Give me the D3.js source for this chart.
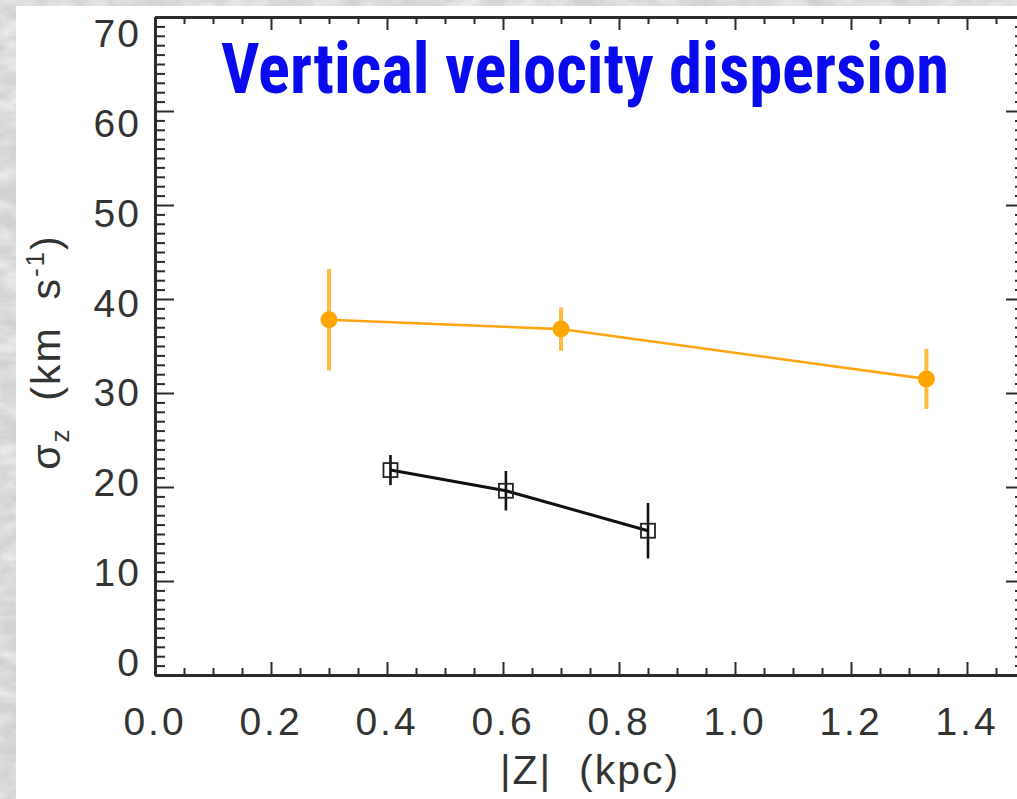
<!DOCTYPE html>
<html>
<head>
<meta charset="utf-8">
<script src="https://cdn.jsdelivr.net/npm/d3@7/dist/d3.min.js"></script>
<style>
  html, body { margin: 0; padding: 0; background: #d4d4d4; }
  svg { display: block; }
</style>
</head>
<body>
<svg id="chart" width="1017" height="799"></svg>
<script>
// Thick-disc sample (orange filled circles)
const thickZ     = [0.30, 0.70, 1.33];
const thickSigma = [37.8, 36.8, 31.5];
const thickErr   = [5.4, 2.3, 3.2];

// Thin-disc sample (open black squares)
const thinZ     = [0.406, 0.605, 0.85];
const thinSigma = [21.8, 19.6, 15.35];
const thinErr   = [1.6, 2.1, 2.95];

// Axis ticks and labels
const xMajor = [0, 0.2, 0.4, 0.6, 0.8, 1.0, 1.2, 1.4];
const xLabels = ["0.0", "0.2", "0.4", "0.6", "0.8", "1.0", "1.2", "1.4"];
const yMajor = [0, 10, 20, 30, 40, 50, 60, 70];
const yLabels = ["0", "10", "20", "30", "40", "50", "60", "70"];

const W = 1017, H = 799;
const svg = d3.select("#chart");

// Mottled grey backdrop behind the white panel
const defs = svg.append("defs");
const f = defs.append("filter").attr("id", "marble")
  .attr("x", 0).attr("y", 0).attr("width", "100%").attr("height", "100%");
f.append("feTurbulence").attr("type", "fractalNoise")
  .attr("baseFrequency", "0.035 0.07").attr("numOctaves", 4).attr("seed", 7);
f.append("feColorMatrix").attr("type", "matrix")
  .attr("values", "0 0 0 0 1  0 0 0 0 1  0 0 0 0 1  1.1 0 0 0 -0.35");
svg.append("rect").attr("width", W).attr("height", H).attr("fill", "#d2d2d2");
svg.append("rect").attr("width", W).attr("height", H).attr("filter", "url(#marble)");

// White panel
svg.append("rect").attr("x", 16).attr("y", 6)
  .attr("width", W - 16).attr("height", H - 6).attr("fill", "#ffffff");

const pLeft = 155, pRight = 1025, pTop = 17, pBottom = 675;
const x = d3.scaleLinear().domain([0, 1.5]).range([pLeft, pRight]);
const y = d3.scaleLinear().domain([0, 70]).range([pBottom, pTop]);
// y labels sit on a slightly tighter spacing than their ticks
const yLab = d3.scaleLinear().domain([0, 70]).range([662, 33]);

const axisColor = "#2b2b2b";
const textColor = "#333333";
const xMinor = d3.range(0, 1.5001, 0.05).filter(v => Math.abs(v * 5 - Math.round(v * 5)) > 1e-6);
const yMinor = d3.range(0, 71, 1).filter(v => v % 10 !== 0);

function styleAxis(g, width) {
  g.select(".domain").attr("stroke", axisColor).attr("stroke-width", width);
  g.selectAll(".tick line").attr("stroke", axisColor).attr("stroke-width", 2);
  g.selectAll(".tick text").remove();
}

// Bottom axis (ticks point up into the plot)
svg.append("g").attr("transform", `translate(0,${pBottom})`)
  .call(d3.axisTop(x).tickValues(xMinor).tickSize(7).tickSizeOuter(0))
  .call(g => styleAxis(g, 3));
svg.append("g").attr("transform", `translate(0,${pBottom})`)
  .call(d3.axisTop(x).tickValues(xMajor).tickSize(13).tickSizeOuter(0))
  .call(g => styleAxis(g, 3));
// Top axis
svg.append("g").attr("transform", `translate(0,${pTop})`)
  .call(d3.axisBottom(x).tickValues(xMinor).tickSize(7).tickSizeOuter(0))
  .call(g => styleAxis(g, 3));
svg.append("g").attr("transform", `translate(0,${pTop})`)
  .call(d3.axisBottom(x).tickValues(xMajor).tickSize(13).tickSizeOuter(0))
  .call(g => styleAxis(g, 3));
// Left axis
svg.append("g").attr("transform", `translate(${pLeft},0)`)
  .call(d3.axisRight(y).tickValues(yMinor).tickSize(10).tickSizeOuter(0))
  .call(g => styleAxis(g, 3));
svg.append("g").attr("transform", `translate(${pLeft},0)`)
  .call(d3.axisRight(y).tickValues(yMajor).tickSize(19).tickSizeOuter(0))
  .call(g => styleAxis(g, 3));
// Right axis
svg.append("g").attr("transform", `translate(${pRight},0)`)
  .call(d3.axisLeft(y).tickValues(yMinor).tickSize(10).tickSizeOuter(0))
  .call(g => styleAxis(g, 3));
svg.append("g").attr("transform", `translate(${pRight},0)`)
  .call(d3.axisLeft(y).tickValues(yMajor).tickSize(19).tickSizeOuter(0))
  .call(g => styleAxis(g, 3));

const labelFont = "'Liberation Sans', Arial, sans-serif";

// Tick labels
svg.append("g").selectAll("text").data(xMajor).join("text")
  .attr("x", d => x(d)).attr("y", 735)
  .attr("text-anchor", "middle")
  .attr("font-family", labelFont).attr("font-size", 39)
  .attr("letter-spacing", 3)
  .attr("fill", textColor)
  .text((d, i) => xLabels[i]);

svg.append("g").selectAll("text").data(yMajor).join("text")
  .attr("x", 141).attr("y", d => yLab(d)).attr("dy", "0.36em")
  .attr("text-anchor", "end")
  .attr("font-family", labelFont).attr("font-size", 39)
  .attr("letter-spacing", 2)
  .attr("fill", textColor)
  .text((d, i) => yLabels[i]);

// Axis titles
svg.append("text")
  .attr("x", (pLeft + pRight) / 2).attr("y", 784)
  .attr("text-anchor", "middle")
  .attr("font-family", labelFont).attr("font-size", 41)
  .attr("letter-spacing", 2)
  .attr("fill", textColor)
  .attr("xml:space", "preserve")
  .text("|Z|  (kpc)");

const yt = svg.append("text")
  .attr("transform", `translate(60,352) rotate(-90)`)
  .attr("text-anchor", "middle")
  .attr("font-family", labelFont).attr("font-size", 41)
  .attr("letter-spacing", 2)
  .attr("fill", textColor)
  .attr("xml:space", "preserve");
yt.append("tspan").text("σ");
yt.append("tspan").attr("font-size", 26).attr("dy", 9).text("z");
yt.append("tspan").attr("dy", -9).text("  (km  s");
yt.append("tspan").attr("font-size", 26).attr("dy", -16).text("-1");
yt.append("tspan").attr("dy", 16).text(")");

// Title
svg.append("text")
  .attr("x", 585).attr("y", 93)
  .attr("text-anchor", "middle")
  .attr("font-family", "'Liberation Sans Narrow', 'Roboto Condensed', 'Liberation Sans', Arial, sans-serif")
  .attr("font-weight", "bold").attr("font-size", 70)
  .attr("fill", "#0a0aee")
  .attr("textLength", 728).attr("lengthAdjust", "spacingAndGlyphs")
  .text("Vertical velocity dispersion");

const line = d3.line().x(d => x(d[0])).y(d => y(d[1]));

// Thick-disc series
const thick = thickZ.map((z, i) => [z, thickSigma[i], thickErr[i]]);
svg.append("path").datum(thick).attr("d", line)
  .attr("fill", "none").attr("stroke", "#ffa510").attr("stroke-width", 2.6);
svg.append("g").selectAll("line").data(thick).join("line")
  .attr("x1", d => x(d[0])).attr("x2", d => x(d[0]))
  .attr("y1", d => y(d[1] + d[2])).attr("y2", d => y(d[1] - d[2]))
  .attr("stroke", "#ffb940").attr("stroke-width", 4);
svg.append("g").selectAll("circle").data(thick).join("circle")
  .attr("cx", d => x(d[0])).attr("cy", d => y(d[1])).attr("r", 8.5)
  .attr("fill", "#ffa500");

// Thin-disc series
const thin = thinZ.map((z, i) => [z, thinSigma[i], thinErr[i]]);
svg.append("path").datum(thin).attr("d", line)
  .attr("fill", "none").attr("stroke", "#111").attr("stroke-width", 3);
svg.append("g").selectAll("line").data(thin).join("line")
  .attr("x1", d => x(d[0])).attr("x2", d => x(d[0]))
  .attr("y1", d => y(d[1] + d[2])).attr("y2", d => y(d[1] - d[2]))
  .attr("stroke", "#111").attr("stroke-width", 2.6);
svg.append("g").selectAll("rect").data(thin).join("rect")
  .attr("x", d => x(d[0]) - 7).attr("y", d => y(d[1]) - 7)
  .attr("width", 14).attr("height", 14)
  .attr("fill", "none").attr("stroke", "#222").attr("stroke-width", 1.8);
</script>
</body>
</html>
